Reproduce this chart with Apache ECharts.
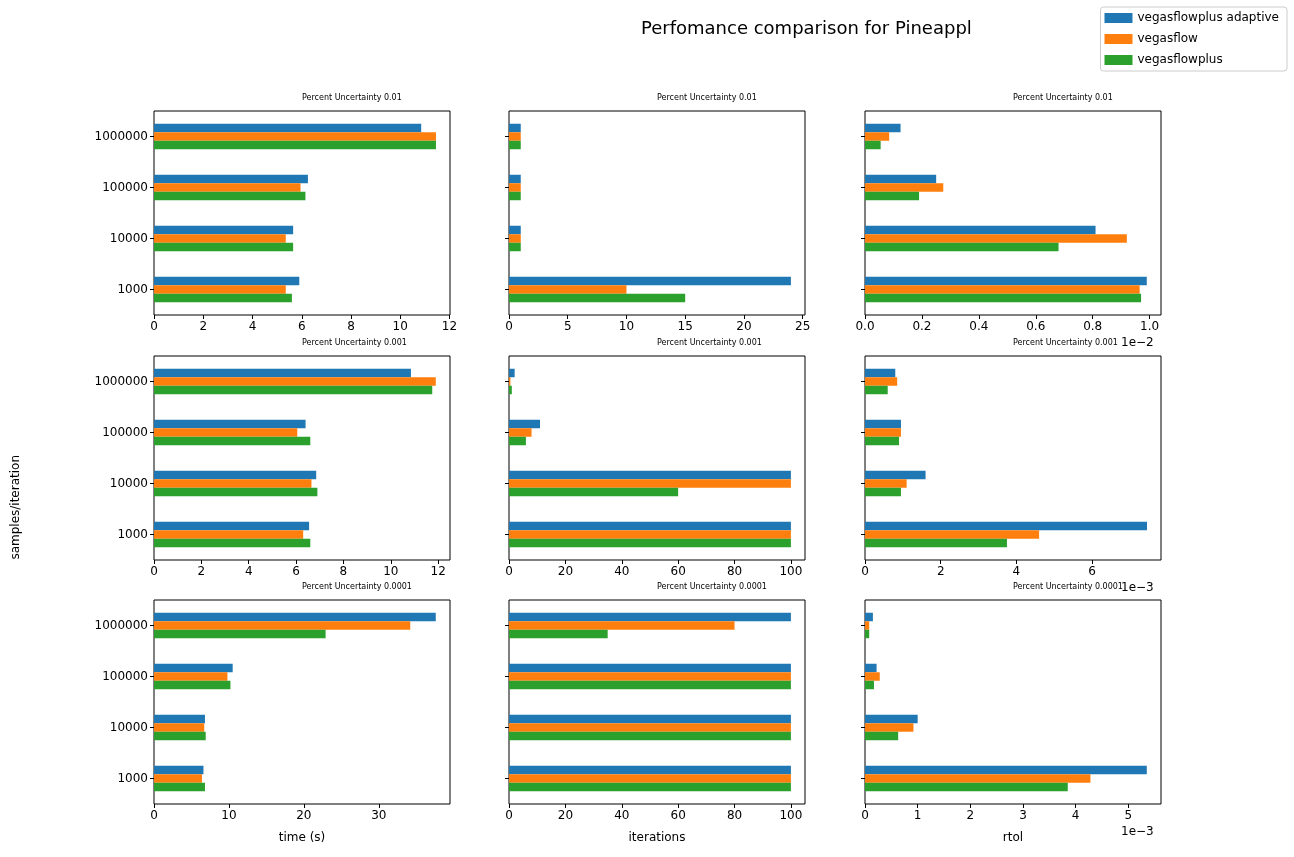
<!DOCTYPE html>
<html><head><meta charset="utf-8">
<script src="https://cdn.jsdelivr.net/npm/echarts@6/dist/echarts.min.js"></script>
<style>html,body{margin:0;background:#fff}#c{width:1294px;height:857px}</style>
</head><body><div id="c"></div>
<script>
var categories = ['1000', '10000', '100000', '1000000'];
var seriesNames = ['vegasflowplus adaptive', 'vegasflow', 'vegasflowplus'];
var colors = ['#1f77b4', '#ff7f0e', '#2ca02c'];
var rowTitles = ['Percent Uncertainty 0.01', 'Percent Uncertainty 0.001', 'Percent Uncertainty 0.0001'];
var xNames = ['time (s)', 'iterations', 'rtol'];

// [row][col][series] -> values per category (rtol in units of the offset)
var time01 = [[5.9, 5.65, 6.25, 10.85], [5.35, 5.35, 5.95, 11.45], [5.6, 5.65, 6.15, 11.45]];
var iter01 = [[24, 1, 1, 1], [10, 1, 1, 1], [15, 1, 1, 1]];
var rtol01 = [[0.99, 0.81, 0.25, 0.125], [0.965, 0.92, 0.275, 0.085], [0.97, 0.68, 0.19, 0.055]];
var time001 = [[6.55, 6.85, 6.4, 10.85], [6.3, 6.65, 6.05, 11.9], [6.6, 6.9, 6.6, 11.75]];
var iter001 = [[100, 100, 11, 2], [100, 100, 8, 0.5], [100, 60, 6, 1]];
var rtol001 = [[7.45, 1.6, 0.95, 0.8], [4.6, 1.1, 0.95, 0.85], [3.75, 0.95, 0.9, 0.6]];
var time0001 = [[6.6, 6.8, 10.5, 37.6], [6.4, 6.7, 9.8, 34.2], [6.8, 6.9, 10.2, 22.9]];
var iter0001 = [[100, 100, 100, 100], [100, 100, 100, 80], [100, 100, 100, 35]];
var rtol0001 = [[5.35, 1.0, 0.22, 0.15], [4.28, 0.92, 0.28, 0.08], [3.85, 0.63, 0.17, 0.08]];

var panels = [[time01, iter01, rtol01], [time001, iter001, rtol001], [time0001, iter0001, rtol0001]];
var axisMax = [[12.02, 25.2, 1.04], [12.5, 105, 7.82], [39.5, 105, 5.62]];
var axisInt = [[2, 5, 0.2], [2, 20, 2], [10, 20, 1]];
var offsets = ['1e\u22122', '1e\u22123', '1e\u22123'];

var lefts = [154, 509, 865], tops = [111, 356, 600], W = 296, H = 204;
var font = 'DejaVu Sans';
var grid = [], xAxis = [], yAxis = [], series = [], graphic = [];
for (var r = 0; r < 3; r++) {
  for (var c = 0; c < 3; c++) {
    var i = r * 3 + c;
    grid.push({left: lefts[c], top: tops[r], width: W, height: H, show: true, borderColor: '#000', borderWidth: 1, backgroundColor: '#fff'});
    var dec = (r === 0 && c === 2) ? 1 : 0;
    xAxis.push({type: 'value', gridIndex: i, min: 0, max: axisMax[r][c], interval: axisInt[r][c],
      splitLine: {show: false}, axisLine: {show: false},
      axisTick: {show: true, length: 4, lineStyle: {color: '#000'}},
      axisLabel: {color: '#000', fontFamily: font, fontSize: 12, margin: 6, showMaxLabel: false,
        formatter: (function (d) { return function (v) { return v.toFixed(d); }; })(dec)},
      name: r === 2 ? xNames[c] : '', nameLocation: 'middle', nameGap: 28,
      nameTextStyle: {color: '#000', fontFamily: font, fontSize: 12}});
    yAxis.push({type: 'category', gridIndex: i, data: categories, boundaryGap: true,
      axisLine: {show: false}, axisTick: {show: true, alignWithLabel: true, length: 4, lineStyle: {color: '#000'}},
      axisLabel: {show: c === 0, color: '#000', fontFamily: font, fontSize: 12, margin: 6}});
    for (var s = 0; s < 3; s++) {
      series.push({type: 'bar', name: seriesNames[s], xAxisIndex: i, yAxisIndex: i,
        data: panels[r][c][s], barWidth: 8.5, barGap: '0%', itemStyle: {color: colors[s]}, silent: true});
    }
    graphic.push({type: 'text', left: lefts[c] + W / 2, top: tops[r] - 17,
      style: {text: rowTitles[r], fill: '#000', font: '8px ' + font, textAlign: 'center'}});
    if (c === 2) {
      graphic.push({type: 'text', left: lefts[c] + W - 40, top: tops[r] + H + 22,
        style: {text: offsets[r], fill: '#000', font: '12px ' + font}});
    }
  }
}
graphic.push({type: 'text', left: 641, top: 20, style: {text: 'Perfomance comparison for Pineappl', fill: '#000', font: '18px ' + font, textAlign: 'center'}});
graphic.push({type: 'text', left: 10, top: 455, rotation: Math.PI / 2,
  style: {text: 'samples/iteration', fill: '#000', font: '12px ' + font, textAlign: 'center', textVerticalAlign: 'middle'}});

var chart = echarts.init(document.getElementById('c'));
chart.setOption({
  animation: false,
  grid: grid, xAxis: xAxis, yAxis: yAxis, series: series, graphic: graphic,
  legend: {data: seriesNames, orient: 'vertical', right: 7, top: 7, itemWidth: 28, itemHeight: 10, itemGap: 9,
    padding: [5, 8, 5, 4], borderColor: '#ccc', borderWidth: 1, borderRadius: 3, icon: 'rect',
    textStyle: {color: '#000', fontFamily: font, fontSize: 12}}
});
</script></body></html>
